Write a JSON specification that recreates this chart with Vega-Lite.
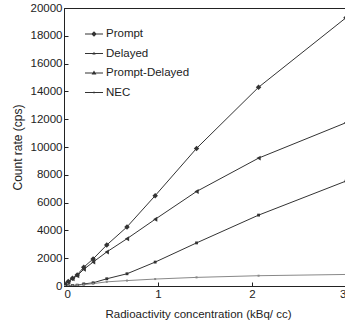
{
  "$schema": "https://vega.github.io/schema/vega-lite/v6.json",
  "width": 282,
  "height": 278,
  "autosize": "none",
  "padding": {"left": 64, "top": 8, "right": 0, "bottom": 37},
  "background": "white",
  "config": {
    "font": "Liberation Sans",
    "view": {"stroke": "#222", "strokeWidth": 1},
    "axis": {
      "grid": false,
      "domainColor": "#222",
      "tickColor": "#222",
      "labelColor": "#222",
      "titleColor": "#222",
      "labelFont": "Liberation Sans",
      "titleFont": "Liberation Sans",
      "labelFontSize": 11.5,
      "titleFontSize": 11.5,
      "titleFontWeight": "normal"
    },
    "legend": {
      "labelFont": "Liberation Sans",
      "labelFontSize": 11.5,
      "labelColor": "#222"
    }
  },
  "data": {
    "values": [
      {"x": 0.01, "y": 120, "series": "Prompt"},
      {"x": 0.045, "y": 320, "series": "Prompt"},
      {"x": 0.09, "y": 560, "series": "Prompt"},
      {"x": 0.14, "y": 800, "series": "Prompt"},
      {"x": 0.21, "y": 1350, "series": "Prompt"},
      {"x": 0.31, "y": 1950, "series": "Prompt"},
      {"x": 0.455, "y": 2950, "series": "Prompt"},
      {"x": 0.67, "y": 4250, "series": "Prompt"},
      {"x": 0.97, "y": 6500, "series": "Prompt"},
      {"x": 1.41, "y": 9900, "series": "Prompt"},
      {"x": 2.07, "y": 14300, "series": "Prompt"},
      {"x": 3.0, "y": 19300, "series": "Prompt"},
      {"x": 0.01, "y": 110, "series": "Prompt-Delayed"},
      {"x": 0.045, "y": 290, "series": "Prompt-Delayed"},
      {"x": 0.09, "y": 520, "series": "Prompt-Delayed"},
      {"x": 0.14, "y": 740, "series": "Prompt-Delayed"},
      {"x": 0.21, "y": 1200, "series": "Prompt-Delayed"},
      {"x": 0.31, "y": 1720, "series": "Prompt-Delayed"},
      {"x": 0.455, "y": 2450, "series": "Prompt-Delayed"},
      {"x": 0.67, "y": 3400, "series": "Prompt-Delayed"},
      {"x": 0.97, "y": 4800, "series": "Prompt-Delayed"},
      {"x": 1.41, "y": 6800, "series": "Prompt-Delayed"},
      {"x": 2.07, "y": 9200, "series": "Prompt-Delayed"},
      {"x": 3.0, "y": 11750, "series": "Prompt-Delayed"},
      {"x": 0.01, "y": 10, "series": "Delayed"},
      {"x": 0.045, "y": 30, "series": "Delayed"},
      {"x": 0.09, "y": 40, "series": "Delayed"},
      {"x": 0.14, "y": 60, "series": "Delayed"},
      {"x": 0.21, "y": 150, "series": "Delayed"},
      {"x": 0.31, "y": 230, "series": "Delayed"},
      {"x": 0.455, "y": 520, "series": "Delayed"},
      {"x": 0.67, "y": 880, "series": "Delayed"},
      {"x": 0.97, "y": 1720, "series": "Delayed"},
      {"x": 1.41, "y": 3100, "series": "Delayed"},
      {"x": 2.07, "y": 5100, "series": "Delayed"},
      {"x": 3.0, "y": 7550, "series": "Delayed"},
      {"x": 0.01, "y": 5, "series": "NEC"},
      {"x": 0.045, "y": 20, "series": "NEC"},
      {"x": 0.09, "y": 40, "series": "NEC"},
      {"x": 0.14, "y": 60, "series": "NEC"},
      {"x": 0.21, "y": 100, "series": "NEC"},
      {"x": 0.31, "y": 170, "series": "NEC"},
      {"x": 0.455, "y": 300, "series": "NEC"},
      {"x": 0.67, "y": 390, "series": "NEC"},
      {"x": 0.97, "y": 500, "series": "NEC"},
      {"x": 1.41, "y": 620, "series": "NEC"},
      {"x": 2.07, "y": 740, "series": "NEC"},
      {"x": 3.0, "y": 830, "series": "NEC"}
    ]
  },
  "encoding": {
    "x": {
      "field": "x", "type": "quantitative",
      "scale": {"domain": [0, 3], "nice": false, "zero": false},
      "axis": {"values": [0, 1, 2, 3], "tickSize": -4, "labelPadding": 6, "title": "Radioactivity concentration (kBq/ cc)", "titlePadding": 9, "titleX": 134, "titleAnchor": null}
    },
    "y": {
      "field": "y", "type": "quantitative",
      "scale": {"domain": [0, 20000], "nice": false},
      "axis": {"values": [0, 2000, 4000, 6000, 8000, 10000, 12000, 14000, 16000, 18000, 20000], "format": "d", "tickSize": -4, "labelPadding": 6, "title": "Count rate (cps)", "titleFontSize": 12, "titlePadding": 6}
    }
  },
  "layer": [
    {
      "mark": {"type": "line", "strokeWidth": 1, "clip": true},
      "encoding": {
        "color": {"field": "series", "type": "nominal",
          "scale": {"domain": ["Prompt", "Delayed", "Prompt-Delayed", "NEC"], "range": ["#333", "#333", "#333", "#888"]},
          "legend": null}
      }
    },
    {
      "mark": {"type": "point", "filled": true, "opacity": 1, "clip": true},
      "encoding": {
        "color": {"field": "series", "type": "nominal", "legend": null},
        "shape": {"field": "series", "type": "nominal",
          "scale": {"domain": ["Prompt", "Delayed", "Prompt-Delayed", "NEC"], "range": ["diamond", "square", "triangle-left", "square"]},
          "legend": null},
        "size": {"field": "series", "type": "nominal",
          "scale": {"type": "ordinal", "domain": ["Prompt", "Delayed", "Prompt-Delayed", "NEC"], "range": [30, 8, 24, 4]},
          "legend": null}
      }
    },
    {
      "mark": {"type": "point", "filled": true, "opacity": 0, "color": "#333"},
      "encoding": {
        "shape": {"field": "series", "type": "nominal",
          "scale": {"domain": ["Prompt", "Delayed", "Prompt-Delayed", "NEC"],
            "range": [
              "M-0.9,-0.05H0.9V0.05H-0.9ZM0,-0.28L0.28,0L0,0.28L-0.28,0Z",
              "M-0.9,-0.05H0.9V0.05H-0.9ZM-0.16,0.1L0,-0.18L0.16,0.1Z",
              "M-0.9,-0.05H0.9V0.05H-0.9ZM-0.24,0.16L0,-0.24L0.24,0.16Z",
              "M-0.9,-0.05H0.9V0.05H-0.9ZM-0.08,-0.08H0.08V0.08H-0.08Z"
            ]},
          "legend": {
            "title": null, "orient": "none", "legendX": 20, "legendY": 16,
            "symbolSize": 400, "symbolOpacity": 1, "symbolStrokeWidth": 0,
            "symbolFillColor": "#333",
            "rowPadding": 3.5, "labelOffset": 2
          }
        }
      }
    }
  ],
  "resolve": {"scale": {"shape": "independent", "size": "independent"}}
}
